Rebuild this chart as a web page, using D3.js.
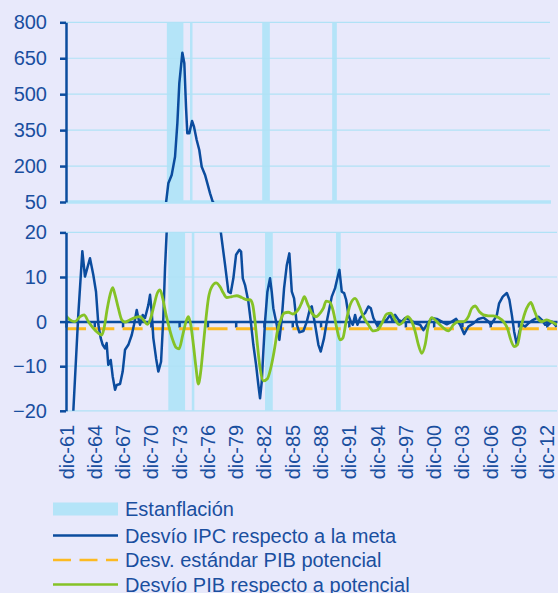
<!DOCTYPE html>
<html>
<head>
<meta charset="utf-8">
<script src="https://cdn.jsdelivr.net/npm/d3@7"></script>
<style>
body { margin: 0; background: #e8e9fb; }
svg { display: block; font-family: "Liberation Sans", Arial, sans-serif; }
</style>
</head>
<body>
<div id="chart"></div>
<script>
const width = 558;
const height = 593;

// stagflation periods (decimal years)
const bandStart = [1972.77, 1975.26, 1983.03, 1990.56];
const bandEnd = [1974.55, 1975.53, 1983.85, 1991.06];

// x axis ticks: every december, every 3 years
const xTickYears = d3.range(0, 18).map(i => 1961.917 + 3 * i);
const xTickLabels = ['dic-61', 'dic-64', 'dic-67', 'dic-70', 'dic-73', 'dic-76', 'dic-79', 'dic-82', 'dic-85',
    'dic-88', 'dic-91', 'dic-94', 'dic-97', 'dic-00', 'dic-03', 'dic-06', 'dic-09', 'dic-12'];

const topTicks = [50, 200, 350, 500, 650, 800];
const bottomTicks = [-20, -10, 0, 10, 20];

// Desvío IPC respecto a la meta
const ipcYears = [1961.92, 1962.69, 1963.22, 1963.65, 1963.93, 1964.46, 1964.81, 1965.10, 1965.35, 1965.60,
    1965.81, 1966.05, 1966.23, 1966.40, 1966.66, 1966.87, 1967.12, 1967.30, 1967.65, 1967.93,
    1968.18, 1968.53, 1968.89, 1969.13, 1969.42, 1969.59, 1969.77, 1970.06, 1970.30, 1970.65,
    1970.83, 1971.01, 1971.18, 1971.47, 1971.71, 1972.00, 1972.24, 1972.42, 1972.60, 1972.93,
    1973.29, 1973.65, 1973.90, 1974.11, 1974.44, 1974.65, 1974.83, 1974.97, 1975.19, 1975.48,
    1975.69, 1975.98, 1976.26, 1976.52, 1976.88, 1977.13, 1977.42, 1977.70, 1978.33, 1978.79,
    1979.14, 1979.39, 1979.67, 1979.96, 1980.31, 1980.49, 1980.67, 1980.91, 1981.26, 1981.52,
    1981.79, 1982.08, 1982.32, 1982.50, 1982.68, 1982.85, 1983.03, 1983.28, 1983.56, 1983.74,
    1983.91, 1984.27, 1984.55, 1984.81, 1985.05, 1985.34, 1985.61, 1985.87, 1986.11, 1986.40,
    1986.67, 1987.10, 1987.46, 1987.81, 1987.99, 1988.34, 1988.69, 1988.94, 1989.29, 1989.58,
    1989.86, 1990.11, 1990.46, 1990.70, 1990.92, 1991.17, 1991.42, 1991.63, 1991.87, 1992.13,
    1992.34, 1992.58, 1992.83, 1993.11, 1993.40, 1993.64, 1993.99, 1994.25, 1994.52, 1994.88,
    1995.23, 1995.58, 1995.94, 1996.30, 1996.58, 1996.83, 1997.18, 1997.54, 1997.89, 1998.42,
    1998.95, 1999.48, 1999.83, 2000.19, 2000.72, 2001.25, 2001.78, 2002.31, 2002.84, 2003.30,
    2003.72, 2004.15, 2004.60, 2005.13, 2005.66, 2006.19, 2006.73, 2006.98, 2007.33, 2007.62,
    2007.86, 2008.25, 2008.68, 2008.95, 2009.21, 2009.45, 2009.74, 2010.01, 2010.27, 2010.62,
    2010.97, 2011.33, 2011.68, 2012.03, 2012.39, 2012.74, 2013.09, 2013.45, 2013.80, 2013.95];
const ipcValues = [-50, -20.2, 1.5, 15.8, 10.1, 14.2, 10.5, 6.7, -0.7, -3.7,
    -5.2, -6, -4.8, -9.7, -8.6, -12.3, -15.3, -14.2, -14, -11.2,
    -6.3, -5.2, -3, -0.7, 2.6, 0.8, -0.7, 1.5, 0.8, 3.7,
    6, 2.2, -3.7, -8.2, -11.2, -9, 0.8, 12, 20.2, 128,
    163, 239, 378, 545, 673, 629, 448, 337, 337, 388,
    364, 309, 267, 197, 163, 128, 86, 52, 20.2, 12.7,
    6.7, 6.4, 9.7, 15, 16.1, 15.7, 9.7, 8.2, 4.5, 0,
    -5.2, -9.7, -14.2, -17.2, -13.5, -6.7, 0, 6.7, 9.7, 6.7,
    3, -0.7, -4.1, 0.8, 7.5, 12.7, 15.3, 6.7, 5.2, -0.7,
    -2.4, -2.1, 0, 3, 3.4, -0.7, -5.2, -6.7, -3.7, 0,
    3, 5.6, 7.5, 9.7, 11.6, 6.7, 6.4, 4.9, 1.5, 0,
    -0.7, 1.5, -0.7, 0.8, 1.5, 1.9, 3.4, 3, 0.8, -0.7,
    -0.4, 0, 0.4, 1.5, 0, 1.5, 0.4, 0, 0.8, 0.4,
    -0.4, -0.7, -1.9, -0.7, 0.8, 0.6, 0, -0.6, 0, 0.6,
    -0.7, -2.8, -1.1, -0.4, 0.6, 0.9, 0, -0.7, 0.4, 1.5,
    4.1, 5.6, 6.4, 4.9, 1.5, -2.2, -5.2, -2.2, -0.7, -1.1,
    -0.4, 0.2, 0.6, 1.1, 0.4, -0.7, -0.7, 0, -0.7, -1.2];

// Desv. estándar PIB potencial
const stdYears = [1961.92, 2014.0];
const stdValues = [-1.6, -1.6];

// Desvío PIB respecto a potencial
const pibYears = [1961.92, 1962.34, 1962.87, 1963.41, 1963.83, 1964.29, 1964.82, 1965.35, 1965.71, 1965.95,
    1966.30, 1966.59, 1966.87, 1967.12, 1967.47, 1967.83, 1968.18, 1968.71, 1969.24, 1969.77,
    1970.12, 1970.55, 1970.91, 1971.26, 1971.61, 1971.89, 1972.18, 1972.53, 1972.88, 1973.24,
    1973.59, 1973.91, 1974.30, 1974.65, 1974.90, 1975.15, 1975.43, 1975.71, 1975.96, 1976.21,
    1976.49, 1976.77, 1977.02, 1977.38, 1977.84, 1978.26, 1978.61, 1978.97, 1979.50, 1980.03,
    1980.56, 1981.09, 1981.44, 1981.73, 1981.97, 1982.22, 1982.50, 1982.85, 1983.28, 1983.64,
    1983.99, 1984.34, 1984.70, 1985.05, 1985.51, 1985.97, 1986.32, 1986.67, 1986.93, 1987.20,
    1987.52, 1987.99, 1988.45, 1988.87, 1989.22, 1989.51, 1989.93, 1990.28, 1990.64, 1990.99,
    1991.28, 1991.63, 1992.05, 1992.58, 1993.04, 1993.46, 1993.99, 1994.52, 1994.95, 1995.42,
    1995.94, 1996.37, 1996.83, 1997.28, 1997.71, 1998.13, 1998.60, 1998.95, 1999.30, 1999.66,
    2000.01, 2000.36, 2000.72, 2001.25, 2001.78, 2002.48, 2003.01, 2003.54, 2004.07, 2004.60,
    2004.96, 2005.31, 2005.77, 2006.19, 2006.73, 2007.26, 2007.79, 2008.32, 2008.74, 2009.10,
    2009.45, 2009.80, 2010.16, 2010.62, 2010.97, 2011.22, 2011.57, 2011.92, 2012.39, 2012.92,
    2013.45, 2013.98];
const pibValues = [1.3, 0.4, 0, 1.1, 1.5, 0, -1.5, -2.6, -3, -1.5,
    3, 6, 7.6, 6, 3, 0.4, -0.1, 0.4, 0.9, 1.1,
    0.4, -0.6, 0.8, 3.7, 6.4, 7.1, 5.2, 1.5, -1.5, -4.1,
    -5.8, -6.1, -3, 0, 1.1, -0.7, -5.2, -10.4, -14, -11.2,
    -5.2, 0.8, 5.2, 7.8, 8.7, 7.8, 6.4, 5.4, 5.6, 5.8,
    5.4, 4.9, 4.9, 3.7, 0, -5.2, -10.4, -13.3, -12.8, -10.4,
    -6.7, -2.2, 0.4, 1.9, 2.1, 1.7, 2.1, 3.1, 4.3, 5.6,
    4.1, 1.9, 1.1, 1.9, 3, 4.6, 4.3, 2.2, -1.5, -4.1,
    -3.7, 0, 3.7, 5.2, 3.4, 1.1, -0.7, -2.1, -1.9, -0.4,
    1.7, 1.9, 0.4, -0.7, 0, 1.1, 0, -2.2, -5.2, -7.1,
    -5.2, -0.8, 0.9, 0, -1.1, -2.1, -0.7, 0, 0, 1.1,
    3, 3.5, 2.2, 1.5, 1.3, 1.3, 0.9, 0, -1.5, -4.1,
    -5.6, -5.2, -1.5, 2.1, 3.7, 4.3, 2.6, 0.8, 0, 0.4,
    -0.1, -0.7];

const legendLabels = ['Estanflación', 'Desvío IPC respecto a la meta', 'Desv. estándar PIB potencial', 'Desvío PIB respecto a potencial'];

const bgColor = '#e8e9fb';
const bandColor = '#b4e4f8';
const gridColor = '#b0e2f6';
const navy = '#0b4c9e';
const textColor = '#1a4f9f';
const green = '#85c226';
const orange = '#fcba22';

const ipcData = ipcYears.map((y, i) => ({ year: y, value: ipcValues[i] }));
const pibData = pibYears.map((y, i) => ({ year: y, value: pibValues[i] }));
const stdData = stdYears.map((y, i) => ({ year: y, value: stdValues[i] }));

const svg = d3.select('#chart').append('svg')
    .attr('width', width)
    .attr('height', height);

svg.append('rect')
    .attr('width', width)
    .attr('height', height)
    .attr('fill', bgColor);

const xDomain = [1961.917, 2014.0];
const xTop = d3.scaleLinear().domain(xDomain).range([66, 550]);
const xBot = d3.scaleLinear().domain(xDomain).range([66, 557]);
const yTop = d3.scaleLinear().domain([50, 800]).range([202, 22.3]);
const yBot = d3.scaleLinear().domain([-20, 20]).range([410.8, 232.4]);

const defs = svg.append('defs');
defs.append('clipPath').attr('id', 'clip-top').append('rect')
    .attr('x', 66).attr('y', yTop(800))
    .attr('width', 484).attr('height', yTop(50) - yTop(800));
defs.append('clipPath').attr('id', 'clip-bot').append('rect')
    .attr('x', 66).attr('y', yBot(20))
    .attr('width', 491).attr('height', yBot(-20) - yBot(20));

const bands = bandStart.map((s, i) => ({ start: s, end: bandEnd[i] }));

// ---------- top panel ----------
const topPanel = svg.append('g');

topPanel.selectAll('.band')
    .data(bands)
    .enter()
    .append('rect')
    .attr('x', d => xTop(d.start))
    .attr('width', d => xTop(d.end) - xTop(d.start))
    .attr('y', yTop(800))
    .attr('height', yTop(50) - yTop(800))
    .attr('fill', bandColor);

topPanel.selectAll('.grid')
    .data(topTicks.slice(1))
    .enter()
    .append('line')
    .attr('x1', 66).attr('x2', 550)
    .attr('y1', d => yTop(d)).attr('y2', d => yTop(d))
    .attr('stroke', gridColor)
    .attr('stroke-width', 1.2);

// base line of the top panel
topPanel.append('line')
    .attr('x1', 66).attr('x2', 551)
    .attr('y1', yTop(50)).attr('y2', yTop(50))
    .attr('stroke', bandColor)
    .attr('stroke-width', 3.5);

const lineTop = d3.line()
    .x(d => xTop(d.year))
    .y(d => yTop(d.value));

topPanel.append('path')
    .datum(ipcData)
    .attr('clip-path', 'url(#clip-top)')
    .attr('d', lineTop)
    .attr('fill', 'none')
    .attr('stroke', navy)
    .attr('stroke-width', 2.5)
    .attr('stroke-linejoin', 'round');

const yAxisTop = topPanel.append('g')
    .attr('transform', 'translate(66,0)')
    .call(d3.axisLeft(yTop).tickValues(topTicks).tickSize(6).tickSizeOuter(0).tickPadding(13));

// ---------- bottom panel ----------
const botPanel = svg.append('g');

botPanel.selectAll('.band')
    .data(bands)
    .enter()
    .append('rect')
    .attr('x', d => xBot(d.start))
    .attr('width', d => xBot(d.end) - xBot(d.start))
    .attr('y', yBot(20))
    .attr('height', yBot(-20) - yBot(20))
    .attr('fill', bandColor);

botPanel.selectAll('.grid')
    .data(bottomTicks.filter(d => d != 0))
    .enter()
    .append('line')
    .attr('x1', 66).attr('x2', 557)
    .attr('y1', d => yBot(d)).attr('y2', d => yBot(d))
    .attr('stroke', gridColor)
    .attr('stroke-width', 1.2);

// zero axis with ticks
const zeroAxis = botPanel.append('g')
    .attr('transform', `translate(0,${yBot(0)})`)
    .call(d3.axisBottom(xBot).tickValues(xTickYears).tickSize(6).tickSizeOuter(0).tickFormat(''));

const lineBot = d3.line()
    .x(d => xBot(d.year))
    .y(d => yBot(d.value));

botPanel.append('path')
    .datum(stdData)
    .attr('d', lineBot)
    .attr('fill', 'none')
    .attr('stroke', orange)
    .attr('stroke-width', 3)
    .attr('stroke-dasharray', '20,8.3');

botPanel.append('path')
    .datum(ipcData)
    .attr('clip-path', 'url(#clip-bot)')
    .attr('d', lineBot)
    .attr('fill', 'none')
    .attr('stroke', navy)
    .attr('stroke-width', 2.5)
    .attr('stroke-linejoin', 'round');

botPanel.append('path')
    .datum(pibData)
    .attr('clip-path', 'url(#clip-bot)')
    .attr('d', lineBot.curve(d3.curveMonotoneX))
    .attr('fill', 'none')
    .attr('stroke', green)
    .attr('stroke-width', 2.8)
    .attr('stroke-linejoin', 'round');

const yAxisBot = botPanel.append('g')
    .attr('transform', 'translate(66,0)')
    .call(d3.axisLeft(yBot).tickValues(bottomTicks).tickSize(6).tickSizeOuter(0).tickPadding(13));

// date labels under the bottom panel
const xLabels = botPanel.append('g')
    .attr('transform', `translate(0,${yBot(-20)})`)
    .call(d3.axisBottom(xBot).tickValues(xTickYears).tickSize(0).tickFormat((d, i) => xTickLabels[i]));
xLabels.select('.domain').remove();
xLabels.selectAll('text')
    .attr('transform', 'rotate(-90)')
    .attr('x', -14)
    .attr('y', 0)
    .attr('dy', '0.35em')
    .attr('text-anchor', 'end');

// axis styling
[yAxisTop, yAxisBot, zeroAxis].forEach(ax => {
    ax.select('.domain').attr('stroke', navy).attr('stroke-width', 2.5);
    ax.selectAll('.tick line').attr('stroke', navy).attr('stroke-width', 2.5);
});
svg.selectAll('.tick text')
    .attr('fill', textColor)
    .style('font-size', '20px')
    .style('font-family', '"Liberation Sans", Arial, sans-serif');

// ---------- legend ----------
const legend = svg.append('g');
const rowY = [509, 535.5, 560, 584.5];

legend.append('rect')
    .attr('x', 53).attr('y', rowY[0] - 6.5)
    .attr('width', 65).attr('height', 13)
    .attr('fill', bandColor);
legend.append('line')
    .attr('x1', 53).attr('x2', 118).attr('y1', rowY[1]).attr('y2', rowY[1])
    .attr('stroke', navy).attr('stroke-width', 2.5);
legend.append('line')
    .attr('x1', 53).attr('x2', 118).attr('y1', rowY[2]).attr('y2', rowY[2])
    .attr('stroke', orange).attr('stroke-width', 2.5)
    .attr('stroke-dasharray', '18,8.5');
legend.append('line')
    .attr('x1', 53).attr('x2', 118).attr('y1', rowY[3]).attr('y2', rowY[3])
    .attr('stroke', green).attr('stroke-width', 2.5);

legend.selectAll('.label')
    .data(legendLabels)
    .enter()
    .append('text')
    .attr('x', 125)
    .attr('y', (d, i) => rowY[i])
    .attr('dy', '0.35em')
    .attr('fill', textColor)
    .style('font-size', '20px')
    .text(d => d);
</script>
</body>
</html>
